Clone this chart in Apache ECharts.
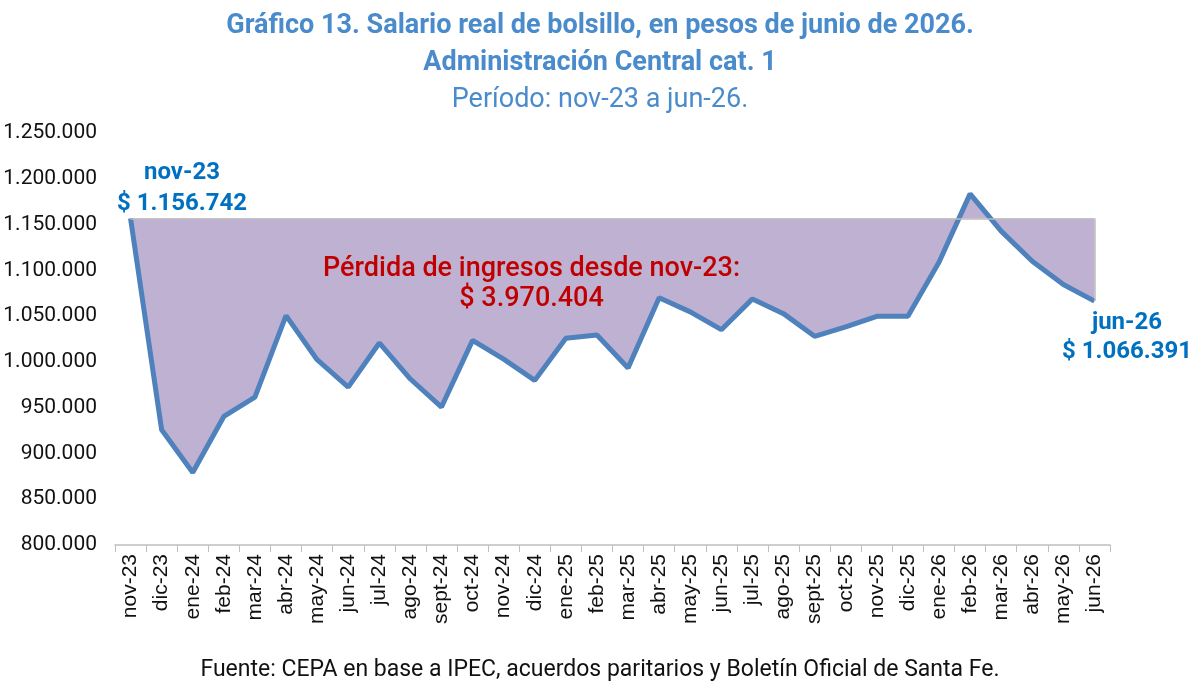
<!DOCTYPE html>
<html>
<head>
<meta charset="utf-8">
<title>Salario real de bolsillo</title>
<script src="https://cdn.jsdelivr.net/npm/echarts@6/dist/echarts.min.js"></script>
<style>
  html, body { margin: 0; padding: 0; background: #fff; }
  #chart { width: 1200px; height: 690px; }
</style>
</head>
<body>
<div id="chart"></div>
<script>
var meses = ['nov-23', 'dic-23', 'ene-24', 'feb-24', 'mar-24', 'abr-24', 'may-24', 'jun-24',
  'jul-24', 'ago-24', 'sept-24', 'oct-24', 'nov-24', 'dic-24', 'ene-25', 'feb-25', 'mar-25',
  'abr-25', 'may-25', 'jun-25', 'jul-25', 'ago-25', 'sept-25', 'oct-25', 'nov-25', 'dic-25',
  'ene-26', 'feb-26', 'mar-26', 'abr-26', 'may-26', 'jun-26']
var salario = [1156742, 925800, 879100, 940400, 961600, 1050500, 1002400, 972500,
  1020700, 981300, 950700, 1023500, 1003000, 979800, 1025700, 1029400, 993300,
  1070000, 1054600, 1035200, 1068800, 1052700, 1027900, 1038200, 1049800, 1049800,
  1108900, 1183500, 1142800, 1110000, 1084500, 1066391]
var base = salario[0]
var perdida = 3970404

function miles(v) {
  return String(Math.round(v)).replace(/\B(?=(\d{3})+(?!\d))/g, '.')
}

var chart = echarts.init(document.getElementById('chart'))
var ultimo = meses.length - 1

var option = {
  animation: false,
  textStyle: { fontFamily: 'Roboto' },
  title: [
    {
      text: 'Gráfico 13. Salario real de bolsillo, en pesos de junio de 2026.\nAdministración Central cat. 1',
      left: 'center',
      top: 3,
      textStyle: { color: '#4a8bcb', fontSize: 27, fontWeight: 'bold', lineHeight: 37, fontFamily: 'Roboto' }
    },
    {
      text: 'Período: nov-23 a jun-26.',
      left: 'center',
      top: 82,
      textStyle: { color: '#4a8bcb', fontSize: 27, fontWeight: 'normal', fontFamily: 'Roboto' }
    },
    {
      text: 'Fuente: CEPA en base a IPEC, acuerdos paritarios y Boletín Oficial de Santa Fe.',
      left: 'center',
      top: 654,
      textStyle: { color: '#111', fontSize: 23, fontWeight: 'normal', fontFamily: 'Roboto' }
    }
  ],
  grid: { left: 115, right: 90, top: 133, bottom: 145, containLabel: false },
  xAxis: {
    type: 'category',
    data: meses,
    boundaryGap: true,
    axisLine: { lineStyle: { color: '#bfbfbf', width: 1.5 } },
    axisTick: { show: true, length: 7, lineStyle: { color: '#bfbfbf' } },
    axisLabel: { rotate: 90, interval: 0, color: '#111', fontSize: 21, margin: 9, fontFamily: 'Liberation Sans' }
  },
  yAxis: {
    type: 'value',
    min: 800000,
    max: 1250000,
    interval: 50000,
    splitLine: { show: false },
    axisLine: { show: false },
    axisTick: { show: false },
    axisLabel: { color: '#111', fontSize: 21, margin: 18, formatter: miles }
  },
  series: [
    {
      type: 'line',
      data: salario,
      symbol: 'none',
      lineStyle: { color: '#4f81bd', width: 5 },
      areaStyle: { origin: base, color: '#bfb1d1', opacity: 1 },
      z: 3,
      markLine: {
        silent: true,
        symbol: 'none',
        label: { show: false },
        lineStyle: { color: '#bdbdbd', width: 1.5, type: 'solid' },
        data: [
          [{ coord: [meses[0], base] }, { coord: [meses[ultimo], base] }],
          [{ coord: [meses[ultimo], base] }, { coord: [meses[ultimo], salario[ultimo]] }]
        ]
      }
    }
  ],
  graphic: [
    {
      type: 'text',
      left: 117,
      top: 157,
      z: 100,
      style: {
        text: 'nov-23\n$ ' + miles(salario[0]),
        fill: '#0070c0',
        font: 'bold 24px Roboto',
        textAlign: 'center',
        lineHeight: 31
      }
    },
    {
      type: 'text',
      right: 8,
      top: 308,
      z: 100,
      style: {
        text: 'jun-26\n$ ' + miles(salario[ultimo]),
        fill: '#0070c0',
        font: 'bold 24px Roboto',
        textAlign: 'center',
        lineHeight: 29
      }
    },
    {
      type: 'text',
      left: 323,
      top: 254,
      z: 100,
      style: {
        text: 'Pérdida de ingresos desde nov-23:\n$ ' + miles(perdida),
        fill: '#c00000',
        font: '500 27px Roboto',
        textAlign: 'center',
        lineHeight: 30
      }
    }
  ]
}

chart.setOption(option)
</script>
</body>
</html>
